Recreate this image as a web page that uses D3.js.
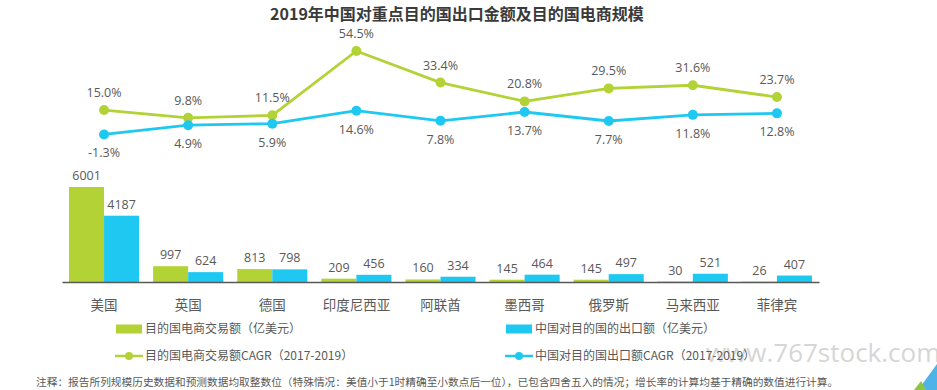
<!DOCTYPE html>
<html>
<head>
<meta charset="utf-8">
<script src="https://cdn.jsdelivr.net/npm/d3@7"></script>
<style>
  html, body { margin: 0; padding: 0; background: #fff; }
  svg { display: block; font-family: "Open Sans", "Noto Sans CJK SC", sans-serif; }
</style>
</head>
<body>
<svg id="chart" width="937" height="390"></svg>
<script>
const categories = ['美国','英国','德国','印度尼西亚','阿联酋','墨西哥','俄罗斯','马来西亚','菲律宾'];
const ecomVolume = [6001, 997, 813, 209, 160, 145, 145, 30, 26];
const exportVolume = [4187, 624, 798, 456, 334, 464, 497, 521, 407];
const ecomCAGR = [15.0, 9.8, 11.5, 54.5, 33.4, 20.8, 29.5, 31.6, 23.7];
const exportCAGR = [-1.3, 4.9, 5.9, 14.6, 7.8, 13.7, 7.7, 11.8, 12.8];
const seriesNames = ['目的国电商交易额（亿美元）', '中国对目的国的出口额（亿美元）',
                     '目的国电商交易额CAGR（2017-2019）', '中国对目的国出口额CAGR（2017-2019）'];
const titleText = '2019年中国对重点目的国出口金额及目的国电商规模';
const noteText = '注释：报告所列规模历史数据和预测数据均取整数位（特殊情况：美值小于1时精确至小数点后一位），已包含四舍五入的情况；增长率的计算均基于精确的数值进行计算。';
const watermark = 'www.767stock.com';

const GREEN = '#b2d235', BLUE = '#1fc8f1', TXT = '#595959';
const svg = d3.select('#chart');

// watermark (behind)
svg.append('text').attr('x', 706).attr('y', 362).attr('font-size', 26)
  .attr('fill', '#d6d6d6').attr('font-family', 'Open Sans, sans-serif').text(watermark);

// title
svg.append('text').attr('x', 457).attr('y', 20).attr('text-anchor', 'middle')
  .attr('font-size', 16).attr('font-weight', 'bold').attr('fill', '#3a3a3a')
  .attr('font-family', '"Noto Sans CJK SC", sans-serif').text(titleText);

const x = d3.scaleBand().domain(categories).range([62, 819]).paddingInner(0.167).paddingOuter(0.0835);
const xs = d3.scaleBand().domain(['e', 'x']).range([0, x.bandwidth()]);
const yBar = d3.scaleLinear().domain([0, 6000]).range([282, 187]);
const yLine = d3.scaleLinear().domain([0, 54.5]).range([132.5, 51]);

// bars
const bars = svg.append('g');
const barSeries = [{key: 'e', vals: ecomVolume, color: GREEN}, {key: 'x', vals: exportVolume, color: BLUE}];
barSeries.forEach(s => {
  bars.selectAll(null).data(categories).enter().append('rect')
    .attr('x', (c) => x(c) + xs(s.key))
    .attr('width', xs.bandwidth())
    .attr('y', (c, i) => yBar(s.vals[i]))
    .attr('height', (c, i) => yBar(0) - yBar(s.vals[i]))
    .attr('fill', s.color);
  bars.selectAll(null).data(categories).enter().append('text')
    .attr('x', (c) => x(c) + xs(s.key) + xs.bandwidth() / 2)
    .attr('y', (c, i) => yBar(s.vals[i]) - 7)
    .attr('text-anchor', 'middle').attr('font-size', 12.5).attr('fill', TXT)
    .text((c, i) => s.vals[i]);
});

// x axis
const xAxis = svg.append('g').attr('transform', `translate(0,${yBar(0)})`)
  .call(d3.axisBottom(x).tickSize(0).tickPadding(18));
xAxis.select('.domain').attr('stroke', '#595959').attr('stroke-width', 1.5);
xAxis.selectAll('text').attr('font-size', 13.5).attr('fill', TXT)
  .attr('font-family', '"Noto Sans CJK SC", sans-serif');

// lines
const pct = (v) => v.toFixed(1) + '%';
const cx = (c) => x(c) + x.bandwidth() / 2;
const lineSeries = [{vals: ecomCAGR, color: GREEN, dy: -13}, {vals: exportCAGR, color: BLUE, dy: 23}];
lineSeries.forEach(s => {
  const line = d3.line().x((d) => cx(d[0])).y((d) => yLine(d[1]));
  const pts = categories.map((c, i) => [c, s.vals[i]]);
  svg.append('path').datum(pts).attr('d', line).attr('fill', 'none')
    .attr('stroke', s.color).attr('stroke-width', 2.8);
  svg.selectAll(null).data(pts).enter().append('circle')
    .attr('cx', (d) => cx(d[0])).attr('cy', (d) => yLine(d[1])).attr('r', 5).attr('fill', s.color);
  svg.selectAll(null).data(pts).enter().append('text')
    .attr('x', (d) => cx(d[0])).attr('y', (d) => yLine(d[1]) + s.dy)
    .attr('text-anchor', 'middle').attr('font-size', 12.5).attr('fill', TXT)
    .text((d) => pct(d[1]));
});

// legend
const leg = svg.append('g').attr('font-family', '"Noto Sans CJK SC", sans-serif');
const legItems = [
  {x: 116, y: 329, type: 'rect', color: GREEN, text: seriesNames[0]},
  {x: 506, y: 329, type: 'rect', color: BLUE, text: seriesNames[1]},
  {x: 116, y: 356, type: 'line', color: GREEN, text: seriesNames[2]},
  {x: 506, y: 356, type: 'line', color: BLUE, text: seriesNames[3]}
];
legItems.forEach(it => {
  if (it.type === 'rect') {
    leg.append('rect').attr('x', it.x).attr('y', it.y - 4.5).attr('width', 26).attr('height', 9).attr('fill', it.color);
  } else {
    leg.append('line').attr('x1', it.x - 1).attr('x2', it.x + 27).attr('y1', it.y).attr('y2', it.y)
      .attr('stroke', it.color).attr('stroke-width', 2.5);
    leg.append('circle').attr('cx', it.x + 13).attr('cy', it.y).attr('r', 4).attr('fill', it.color);
  }
  leg.append('text').attr('x', it.x + 29).attr('y', it.y).attr('dy', '0.35em')
    .attr('font-size', 12).attr('fill', TXT).text(it.text);
});

// footnote
svg.append('text').attr('x', 36).attr('y', 386).attr('font-size', 10.7).attr('fill', TXT)
  .attr('font-family', '"Noto Sans CJK SC", sans-serif').text(noteText);

// corner decoration
svg.append('polygon').attr('points', '918,390 937,364 937,390').attr('fill', '#4fb3e8');
svg.append('polygon').attr('points', '914,390 921,381 926,390').attr('fill', '#8cc63f');
</script>
</body>
</html>
